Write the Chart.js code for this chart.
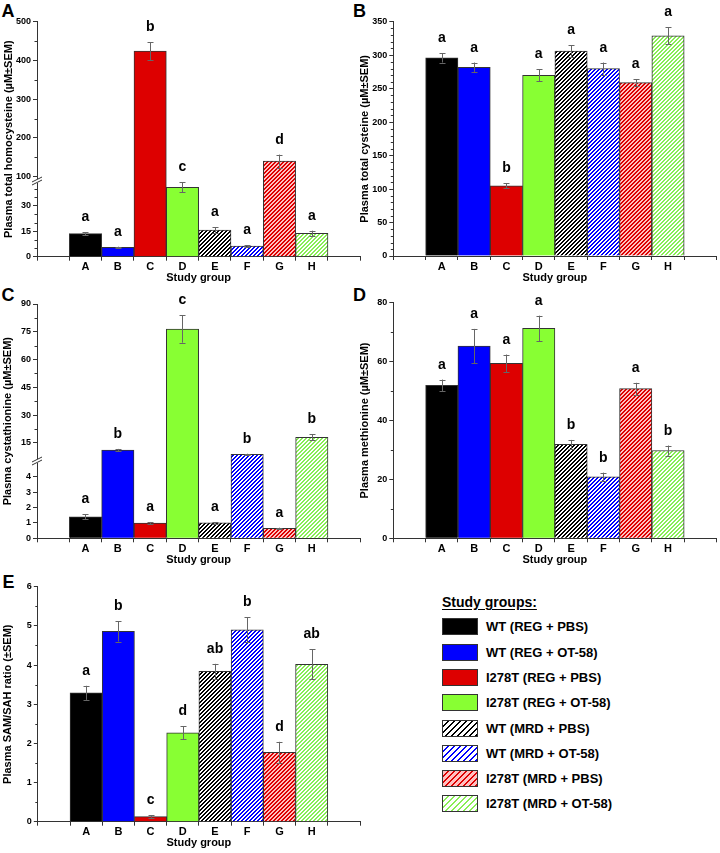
<!DOCTYPE html>
<html>
<head>
<meta charset="utf-8">
<script src="https://cdn.jsdelivr.net/npm/chart.js@4.4.1/dist/chart.umd.min.js"></script>
<style>
  body { margin: 0; background: #fff; font-family: 'Liberation Sans', Arial, sans-serif; }
  #fig { position: relative; width: 720px; height: 853px; overflow: hidden; background: #fff; }
  #fig canvas { position: absolute; }
  .plabel { position: absolute; font-weight: bold; font-size: 18px; line-height: 18px; }
  .legtitle { position: absolute; left: 442px; top: 594px; font-weight: bold; font-size: 14px; line-height: 17px; text-decoration: underline; text-underline-offset: 2px; }
  .legrow { position: absolute; left: 442px; height: 17px; }
  .legrow canvas { position: absolute; left: 0; top: 0; }
  .legrow span { position: absolute; left: 44px; top: 0; font-weight: bold; font-size: 13px; line-height: 17px; white-space: nowrap; }
</style>
</head>
<body>
<div id="fig">
  <div class="plabel" style="left:1.5px; top:1.6px;">A</div>
  <div class="plabel" style="left:353px; top:1.6px;">B</div>
  <div class="plabel" style="left:1.5px; top:286px;">C</div>
  <div class="plabel" style="left:353px; top:286px;">D</div>
  <div class="plabel" style="left:2.5px; top:572.6px;">E</div>
  <div class="legtitle">Study groups:</div>
</div>
<script>
// ---- Data ----
const groups = ['A', 'B', 'C', 'D', 'E', 'F', 'G', 'H'];
const groupNames = ['WT (REG + PBS)', 'WT (REG + OT-58)', 'I278T (REG + PBS)', 'I278T (REG + OT-58)',
                    'WT (MRD + PBS)', 'WT (MRD + OT-58)', 'I278T (MRD + PBS)', 'I278T (MRD + OT-58)'];

const homocysteine = [13.6, 5.5, 424, 41, 15.8, 6.3, 140, 13.8];
const homocysteineSem = [0.8, 0.4, 23, 3, 1.7, 0.4, 17, 1.6];
const homocysteineLetters = ['a', 'a', 'b', 'c', 'a', 'a', 'd', 'a'];
const homocysteineTicks = [0, 15, 30, 100, 200, 300, 400, 500];
const homocysteineMinor = [5, 10, 20, 25, 35, 40, 150, 250, 350, 450];

const cysteine = [296, 282, 105, 270, 306, 280, 259, 329];
const cysteineSem = [7, 7, 4, 9, 9, 9, 5, 13];
const cysteineLetters = ['a', 'a', 'b', 'a', 'a', 'a', 'a', 'a'];
const cysteineTicks = [0, 50, 100, 150, 200, 250, 300, 350];
const cysteineMinor = [10, 20, 30, 40, 60, 70, 80, 90, 110, 120, 130, 140, 160, 170, 180, 190,
                       210, 220, 230, 240, 260, 270, 280, 290, 310, 320, 330, 340];

const cystathionine = [1.40, 11.1, 0.99, 76.5, 1.0, 8.8, 0.65, 18.0];
const cystathionineSem = [0.15, 0.6, 0.07, 7.4, 0.05, 0.3, 0.04, 1.5];
const cystathionineLetters = ['a', 'b', 'a', 'c', 'a', 'b', 'a', 'b'];
const cystathionineTicks = [0, 1, 2, 3, 4, 15, 30, 45, 60, 75, 90];
const cystathionineMinor = [22.5, 37.5, 52.5, 67.5, 82.5];

const methionine = [51.9, 65.3, 59.4, 71.3, 31.9, 20.9, 50.8, 29.8];
const methionineSem = [2, 5.8, 3, 4.3, 1.5, 1.4, 2, 1.7];
const methionineLetters = ['a', 'a', 'a', 'a', 'b', 'b', 'a', 'b'];
const methionineTicks = [0, 20, 40, 60, 80];
const methionineMinor = [10, 30, 50, 70];

const samSah = [3.29, 4.86, 0.13, 2.27, 3.84, 4.90, 1.77, 4.02];
const samSahSem = [0.18, 0.26, 0.03, 0.17, 0.19, 0.32, 0.27, 0.38];
const samSahLetters = ['a', 'b', 'c', 'd', 'ab', 'b', 'd', 'ab'];
const samSahTicks = [0, 1, 2, 3, 4, 5, 6];
const samSahMinor = [0.5, 1.5, 2.5, 3.5, 4.5, 5.5];

// ---- Styles ----
const axisColor = '#333';
const fontFamily = "'Liberation Sans', Arial, sans-serif";
Chart.defaults.font.family = fontFamily;
Chart.defaults.color = '#000';

// pixel-exact diagonal hatch ("/"), n = period, k = line thickness in px
function hatch(line, bg, n, k) {
  const c = document.createElement('canvas');
  c.width = c.height = n;
  const g = c.getContext('2d');
  g.fillStyle = bg;
  g.fillRect(0, 0, n, n);
  g.fillStyle = line;
  for (let y = 0; y < n; y++) {
    for (let x = 0; x < n; x++) {
      if ((x + y) % n < k) g.fillRect(x, y, 1, 1);
    }
  }
  return g.createPattern(c, 'repeat');
}
function groupFills(n, k) {
  return ['#000000', '#0000ff', '#dd0000', '#88ff33',
          hatch('#000000', '#ffffff', n, k),
          hatch('#0000ff', '#ffffff', n, k),
          hatch('#dd0000', '#ffc0c0', n, k),
          hatch('#88ee55', '#ffffff', n, k)];
}
const barFills = groupFills(4, 2);

// ---- Broken (piecewise) linear scale ----
class BrokenLinearScale extends Chart.LinearScale {
  _toDecimal(v) {
    const pieces = this.options.pieces;
    for (const p of pieces) {
      if (v <= p[1]) {
        const t = Math.max(0, (v - p[0]) / (p[1] - p[0]));
        return p[2] + t * (p[3] - p[2]);
      }
    }
    const p = pieces[pieces.length - 1];
    return p[2] + (v - p[0]) / (p[1] - p[0]) * (p[3] - p[2]);
  }
  getPixelForValue(v) {
    if (v === null || v === undefined || isNaN(v)) return NaN;
    return this.getPixelForDecimal(this._toDecimal(v));
  }
  getValueForPixel(px) {
    const d = this.getDecimalForPixel(px);
    const pieces = this.options.pieces;
    for (const p of pieces) {
      if (d <= p[3]) return p[0] + (d - p[2]) / (p[3] - p[2]) * (p[1] - p[0]);
    }
    return pieces[pieces.length - 1][1];
  }
}
BrokenLinearScale.id = 'brokenLinear';
BrokenLinearScale.defaults = Chart.LinearScale.defaults;
Chart.register(BrokenLinearScale);

const fig = document.getElementById('fig');

function makePanel(p) {
  const cv = document.createElement('canvas');
  cv.width = p.w; cv.height = p.h;
  cv.style.left = p.left + 'px';
  cv.style.top = p.top + 'px';
  fig.appendChild(cv);
  const a = p.area;

  const extras = {
    id: 'extras',
    afterDraw(chart) {
      const ctx = chart.ctx;
      const y = chart.scales.y;
      const meta = chart.getDatasetMeta(0);
      ctx.save();
      ctx.strokeStyle = axisColor;
      ctx.lineWidth = 1;
      // minor ticks
      p.minor.forEach(v => {
        const py = Math.round(y.getPixelForValue(v)) + 0.5;
        ctx.beginPath();
        ctx.moveTo(y.right - 2.5, py);
        ctx.lineTo(y.right, py);
        ctx.stroke();
      });
      // axis break
      if (p.pieces) {
        const by = Math.round(y.getPixelForValue(p.pieces[0][1]));
        const ax = y.right;
        ctx.fillStyle = '#fff';
        ctx.fillRect(ax - 2, by - 2, 4, 4);
        ctx.beginPath();
        ctx.moveTo(ax - 5, by + 1); ctx.lineTo(ax + 5, by - 4);
        ctx.moveTo(ax - 5, by + 4); ctx.lineTo(ax + 5, by - 1);
        ctx.stroke();
      }
      // error bars and letters
      ctx.strokeStyle = '#666';
      ctx.fillStyle = '#000';
      ctx.font = 'bold 14px ' + fontFamily;
      ctx.textAlign = 'center';
      ctx.textBaseline = 'alphabetic';
      groups.forEach((g, i) => {
        const bar = meta.data[i + 1];
        const v = p.values[i], e = p.sem[i];
        const x = Math.round(bar.x) + 0.5;
        const top = y.getPixelForValue(v + e);
        const bot = y.getPixelForValue(v - e);
        ctx.beginPath();
        ctx.moveTo(x, top); ctx.lineTo(x, bot);
        ctx.moveTo(x - 3, Math.round(top) + 0.5); ctx.lineTo(x + 3, Math.round(top) + 0.5);
        ctx.moveTo(x - 3, Math.round(bot) + 0.5); ctx.lineTo(x + 3, Math.round(bot) + 0.5);
        ctx.stroke();
        ctx.fillText(p.letters[i], bar.x, top - 11);
      });
      ctx.restore();
    }
  };

  const clear = 'rgba(0,0,0,0)';
  new Chart(cv, {
    type: 'bar',
    data: {
      labels: ['', ...groups, ''],
      datasets: [{
        data: [null, ...p.values, null],
        backgroundColor: [clear, ...barFills, clear],
        borderColor: axisColor,
        borderWidth: 1,
        barPercentage: 1,
        categoryPercentage: 1
      }]
    },
    options: {
      responsive: false,
      animation: false,
      devicePixelRatio: 1,
      layout: { padding: { left: 0, top: a.t, right: p.w - a.r, bottom: 0 } },
      plugins: { legend: { display: false }, tooltip: { enabled: false } },
      scales: {
        x: {
          grid: { drawOnChartArea: false, tickLength: 4, color: axisColor, offset: true },
          border: { color: axisColor },
          ticks: { font: { size: 11, weight: 'bold' }, color: '#000', padding: 0, maxRotation: 0, autoSkip: false },
          title: {
            display: true, text: 'Study group', color: '#000',
            font: { size: 11, weight: 'bold', lineHeight: 1 },
            padding: { top: 0, bottom: p.h - (a.b + 21.6) - 5.5 }
          },
          afterFit: s => { s.height = p.h - a.b; }
        },
        y: {
          type: p.pieces ? 'brokenLinear' : 'linear',
          pieces: p.pieces,
          min: p.ticks[0],
          max: p.ticks[p.ticks.length - 1],
          afterBuildTicks: s => { s.ticks = p.ticks.map(v => ({ value: v })); },
          grid: { drawOnChartArea: false, tickLength: 4, color: axisColor },
          border: { color: axisColor },
          ticks: { font: { size: 9, weight: 'bold' }, color: '#000', padding: 2, callback: v => String(v) },
          title: {
            display: true, text: p.title, color: '#000',
            font: { size: 11, weight: 'bold', lineHeight: 1 },
            padding: { top: p.titleOff, bottom: 0 }
          },
          afterFit: s => { s.width = a.l; }
        }
      }
    },
    plugins: [extras]
  });
}

makePanel({ left: 0, top: 0, w: 362, h: 290, area: { l: 37, t: 21.7, r: 360.3, b: 256.7 },
  title: 'Plasma total homocysteine (µM±SEM)', titleOff: 3.2,
  values: homocysteine, sem: homocysteineSem, letters: homocysteineLetters,
  ticks: homocysteineTicks, minor: homocysteineMinor,
  pieces: [[0, 45, 0, 0.324], [90, 500, 0.324, 1]] });

makePanel({ left: 355, top: 0, w: 365, h: 290, area: { l: 38.3, t: 21.7, r: 361.5, b: 256 },
  title: 'Plasma total cysteine (µM±SEM)', titleOff: 4.5,
  values: cysteine, sem: cysteineSem, letters: cysteineLetters,
  ticks: cysteineTicks, minor: cysteineMinor });

makePanel({ left: 0, top: 283, w: 362, h: 290, area: { l: 37, t: 21, r: 360.3, b: 255.3 },
  title: 'Plasma cystathionine (µM±SEM)', titleOff: 2.8,
  values: cystathionine, sem: cystathionineSem, letters: cystathionineLetters,
  ticks: cystathionineTicks, minor: cystathionineMinor,
  pieces: [[0, 5, 0, 0.3286], [5, 90, 0.3286, 1]] });

makePanel({ left: 355, top: 283, w: 365, h: 290, area: { l: 38.3, t: 19.7, r: 361.5, b: 255.3 },
  title: 'Plasma methionine (µM±SEM)', titleOff: 4.5,
  values: methionine, sem: methionineSem, letters: methionineLetters,
  ticks: methionineTicks, minor: methionineMinor });

makePanel({ left: 0, top: 565, w: 362, h: 288, area: { l: 37.8, t: 21.7, r: 360, b: 256.7 },
  title: 'Plasma SAM/SAH ratio (±SEM)', titleOff: 2.5,
  values: samSah, sem: samSahSem, letters: samSahLetters,
  ticks: samSahTicks, minor: samSahMinor });

// ---- Legend panel ----
const legendFills = groupFills(6, 2);
groupNames.forEach((name, i) => {
  const row = document.createElement('div');
  row.className = 'legrow';
  row.style.top = (618.3 + i * 25.3) + 'px';
  const sw = document.createElement('canvas');
  sw.width = 36; sw.height = 17;
  const g = sw.getContext('2d');
  g.fillStyle = legendFills[i];
  g.fillRect(0, 0, 36, 17);
  g.strokeStyle = axisColor;
  g.lineWidth = 1;
  g.strokeRect(0.5, 0.5, 35, 16);
  const label = document.createElement('span');
  label.textContent = name;
  row.appendChild(sw);
  row.appendChild(label);
  fig.appendChild(row);
});
</script>
</body>
</html>
